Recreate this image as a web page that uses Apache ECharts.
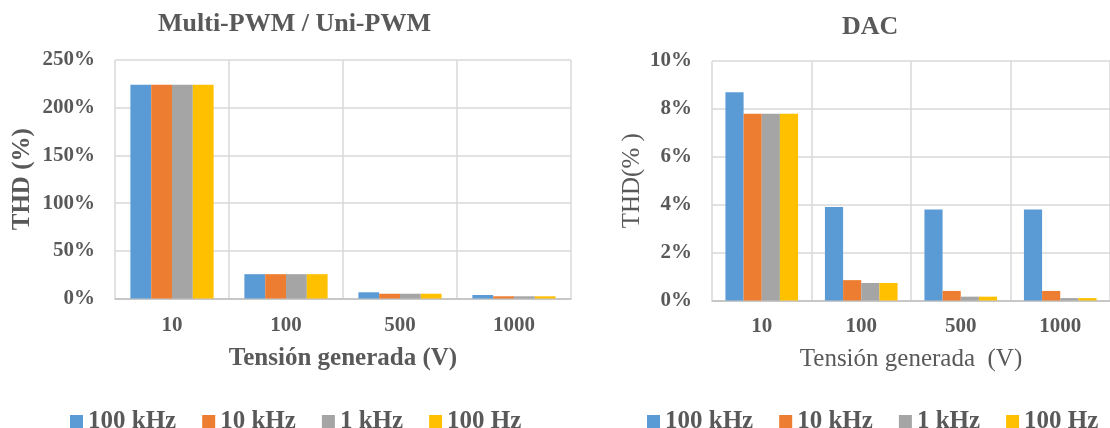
<!DOCTYPE html>
<html>
<head>
<meta charset="utf-8">
<script src="https://cdn.jsdelivr.net/npm/echarts@6/dist/echarts.min.js"></script>
<style>
  html, body { margin: 0; padding: 0; background: #fff; }
  #chart { width: 1110px; height: 428px; }
</style>
</head>
<body>
<div id="chart"></div>
<script>
// Output voltage categories (V)
const categories = ['10', '100', '500', '1000'];
const seriesNames = ['100 kHz', '10 kHz', '1 kHz', '100 Hz'];
const seriesColors = ['#5B9BD5', '#ED7D31', '#A5A5A5', '#FFC000'];

// THD (%) for Multi-PWM / Uni-PWM
const pwm100kHz = [224, 25.5, 6.5, 3.7];
const pwm10kHz  = [224, 25.5, 5.0, 2.3];
const pwm1kHz   = [224, 25.5, 5.0, 2.3];
const pwm100Hz  = [224, 25.5, 5.0, 2.3];

// THD (%) for DAC
const dac100kHz = [8.7, 3.9, 3.8, 3.8];
const dac10kHz  = [7.8, 0.85, 0.4, 0.4];
const dac1kHz   = [7.8, 0.73, 0.16, 0.1];
const dac100Hz  = [7.8, 0.73, 0.16, 0.1];

// Y-axis ticks
const pwmTicks = { min: 0, max: 250, interval: 50 };
const dacTicks = { min: 0, max: 10, interval: 2 };

const pwmData = [pwm100kHz, pwm10kHz, pwm1kHz, pwm100Hz];
const dacData = [dac100kHz, dac10kHz, dac1kHz, dac100Hz];

const TEXT = '#595959';
const GRID = '#D9D9D9';
const SERIF = '"Liberation Serif", "Times New Roman", serif';

function xAxis(gridIndex, name, bold, labelMargin, nameGap) {
  return {
    type: 'category',
    gridIndex,
    data: categories,
    name,
    nameLocation: 'middle',
    nameGap,
    nameTextStyle: { color: TEXT, fontFamily: SERIF, fontSize: 25, fontWeight: bold ? 'bold' : 'normal' },
    axisLine: { show: true, lineStyle: { color: '#BFBFBF', width: 1.5 } },
    axisTick: { show: false },
    axisLabel: { color: TEXT, fontFamily: SERIF, fontSize: 21, fontWeight: 'bold', margin: labelMargin },
    splitLine: { show: true, interval: 0, lineStyle: { color: GRID, width: 1.5 } }
  };
}

function yAxis(gridIndex, ticks, name, bold, nameGap) {
  return {
    type: 'value',
    gridIndex,
    min: ticks.min,
    max: ticks.max,
    interval: ticks.interval,
    name,
    nameLocation: 'middle',
    nameRotate: 90,
    nameGap,
    nameTextStyle: { color: TEXT, fontFamily: SERIF, fontSize: 25, fontWeight: bold ? 'bold' : 'normal' },
    axisLine: { show: false },
    axisTick: { show: false },
    axisLabel: { color: TEXT, fontFamily: SERIF, fontSize: 21, fontWeight: 'bold', margin: 20,
                 padding: [4, 0, 0, 0],
                 formatter: v => v + '%' },
    splitLine: { show: true, lineStyle: { color: GRID, width: 1.5 } }
  };
}

function legend(left) {
  return {
    left, top: 404,
    itemWidth: 13, itemHeight: 13, itemGap: 26,
    icon: 'rect',
    data: seriesNames,
    textStyle: { color: TEXT, fontFamily: SERIF, fontSize: 25, fontWeight: 'bold' }
  };
}

const series = [];
seriesNames.forEach((name, i) => {
  series.push({
    name, type: 'bar', xAxisIndex: 0, yAxisIndex: 0,
    data: pwmData[i], itemStyle: { color: seriesColors[i] },
    barGap: '0%', barCategoryGap: '27%'
  });
});
seriesNames.forEach((name, i) => {
  series.push({
    name, type: 'bar', xAxisIndex: 1, yAxisIndex: 1,
    data: dacData[i], itemStyle: { color: seriesColors[i] },
    barGap: '0%', barCategoryGap: '27%'
  });
});

const chart = echarts.init(document.getElementById('chart'), null, { renderer: 'canvas' });
chart.setOption({
  animation: false,
  backgroundColor: '#ffffff',
  title: [
    { text: 'Multi-PWM / Uni-PWM', left: 153, top: 6,
      textStyle: { color: TEXT, fontFamily: SERIF, fontSize: 26, fontWeight: 'bold' } },
    { text: 'DAC', left: 837, top: 9,
      textStyle: { color: TEXT, fontFamily: SERIF, fontSize: 26, fontWeight: 'bold' } }
  ],
  legend: [legend(65), legend(642)],
  grid: [
    { left: 115, top: 60, width: 456, height: 238.5 },
    { left: 712, top: 61, width: 406, height: 239.5 }
  ],
  xAxis: [
    xAxis(0, 'Tensión generada (V)', true, 17, 48),
    xAxis(1, 'Tensión generada  (V)', false, 16, 46)
  ],
  yAxis: [
    yAxis(0, pwmTicks, 'THD (%)', true, 80),
    yAxis(1, dacTicks, 'THD(% )', false, 67)
  ],
  series
});
</script>
</body>
</html>
